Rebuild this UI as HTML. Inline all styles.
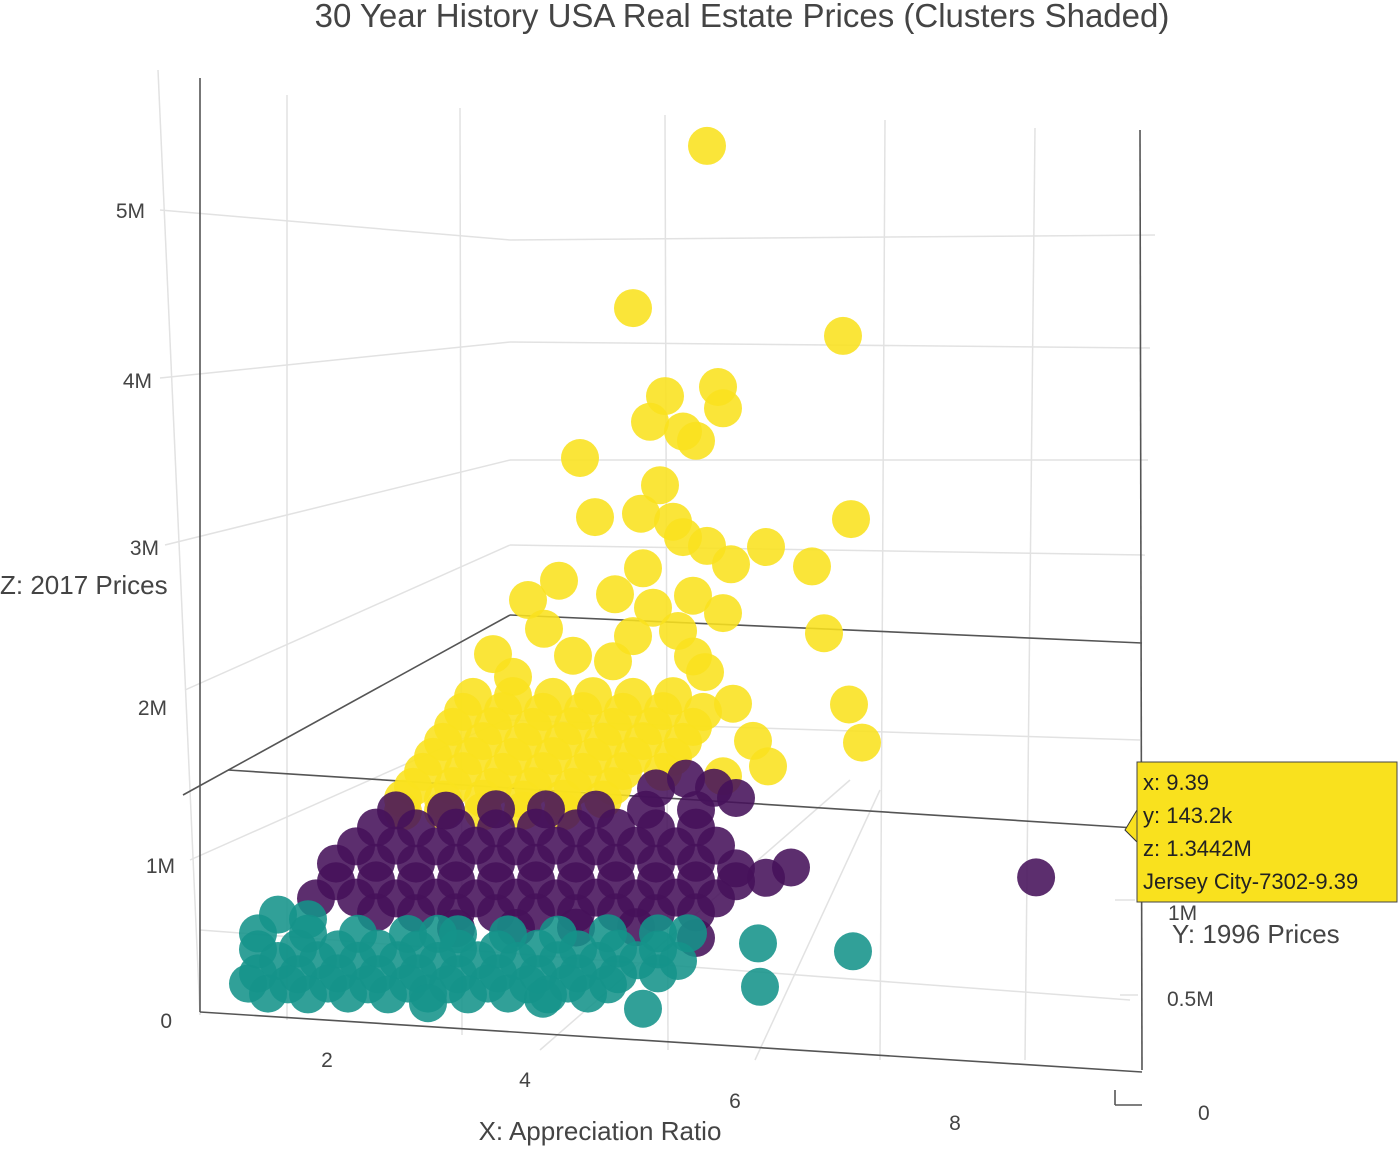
<!DOCTYPE html>
<html><head><meta charset="utf-8"><style>
html,body{margin:0;padding:0;background:#fff;}
svg{display:block;font-family:"Liberation Sans","DejaVu Sans",sans-serif;}
</style></head><body>
<svg id="chart" width="1400" height="1149" viewBox="0 0 1400 1149">
<rect width="1400" height="1149" fill="#fff"/>
<text x="742" y="27" font-size="33" fill="#444" text-anchor="middle">30 Year History USA Real Estate Prices (Clusters Shaded)</text>
<g id="grid" stroke="#e2e2e2" stroke-width="1.5" fill="none">
  <line x1="158" y1="70" x2="200" y2="1015"/>
  <line x1="287" y1="95" x2="287" y2="1020"/>
  <line x1="460" y1="108" x2="462" y2="1035"/>
  <line x1="665" y1="115" x2="668" y2="1050"/>
  <line x1="885" y1="120" x2="880" y2="1060"/>
  <line x1="1035" y1="128" x2="1025" y2="1060"/>
  <line x1="160" y1="210" x2="510" y2="240"/><line x1="510" y1="240" x2="1155" y2="235"/>
  <line x1="160" y1="378" x2="510" y2="342"/><line x1="510" y1="342" x2="1150" y2="348"/>
  <line x1="165" y1="545" x2="510" y2="460"/><line x1="510" y1="460" x2="1148" y2="460"/>
  <line x1="185" y1="690" x2="510" y2="545"/><line x1="510" y1="545" x2="1145" y2="555"/>
  <line x1="190" y1="860" x2="505" y2="720"/><line x1="505" y1="720" x2="1140" y2="740"/>
  <line x1="200" y1="930" x2="1130" y2="1000"/>
  <line x1="1115" y1="900" x2="1135" y2="900"/>
  <line x1="1120" y1="995" x2="1138" y2="995"/>
  <line x1="540" y1="1050" x2="850" y2="780"/>
  <line x1="755" y1="1060" x2="880" y2="790"/>
</g>
<g id="frame" stroke="#555" stroke-width="1.6" fill="none">
  <line x1="200" y1="78" x2="200" y2="1012"/>
  <line x1="1140" y1="130" x2="1142" y2="1070"/>
  <line x1="183" y1="795" x2="510" y2="615"/>
  <line x1="510" y1="615" x2="1142" y2="643"/>
  <line x1="228" y1="770" x2="1135" y2="828"/>
  <line x1="200" y1="1012" x2="1142" y2="1072"/>
  <line x1="1115" y1="1105" x2="1142" y2="1105"/>
  <line x1="1115" y1="1105" x2="1115" y2="1090"/>
</g>
<g font-size="21" fill="#444">
  <text x="145" y="218" text-anchor="end">5M</text>
  <text x="152" y="388" text-anchor="end">4M</text>
  <text x="159" y="555" text-anchor="end">3M</text>
  <text x="167" y="715" text-anchor="end">2M</text>
  <text x="175" y="873" text-anchor="end">1M</text>
  <text x="172" y="1028" text-anchor="end">0</text>
</g>
<text x="0" y="594" font-size="26" fill="#444">Z:  2017 Prices</text>
<g font-size="21" fill="#444" text-anchor="middle">
  <text x="327" y="1067">2</text><text x="525" y="1087">4</text>
  <text x="735" y="1108">6</text><text x="955" y="1130">8</text>
</g>
<text x="600" y="1140" font-size="26" fill="#444" text-anchor="middle">X: Appreciation Ratio</text>
<g font-size="21" fill="#444">
  <text x="1168" y="920">1M</text><text x="1167" y="1006">0.5M</text><text x="1198" y="1120">0</text>
</g>
<text x="1172" y="943" font-size="26" fill="#444">Y:  1996 Prices</text>
<g id="marks"></g>
<g>
  <polygon points="1137,810 1125,830 1137,842" fill="#f9e11e" stroke="#333" stroke-width="1"/>
  <rect x="1137" y="762" width="260" height="140" fill="#f9e11e" stroke="#444" stroke-width="1"/>
  <g font-size="22" fill="#222">
    <text x="1143" y="790">x: 9.39</text>
    <text x="1143" y="823">y: 143.2k</text>
    <text x="1143" y="856">z: 1.3442M</text>
    <text x="1143" y="889">Jersey City-7302-9.39</text>
  </g>
</g>
</svg>
<script>
// Cluster data: [appreciation ratio, 1996 price (M), 2017 price (M)]
const yellowPts = [
[6.14,0.35,5.70],[5.40,0.35,4.64],[7.49,0.3,4.60],[5.72,0.35,4.11],[6.25,0.35,4.20],[6.30,0.35,4.07],[5.57,0.35,3.94],[5.90,0.35,3.90],[6.03,0.35,3.85],[4.87,0.35,3.67],[5.67,0.35,3.55],[5.02,0.35,3.31],[7.57,0.3,3.46],[5.48,0.35,3.36],[5.80,0.35,3.33],[5.90,0.35,3.24],[6.14,0.35,3.20],[6.73,0.35,3.23],[6.38,0.35,3.10],[7.18,0.3,3.14],[5.50,0.35,3.02],[4.66,0.35,2.89],[5.22,0.35,2.84],[4.35,0.35,2.75],[4.51,0.35,2.58],[7.30,0.3,2.73],[5.60,0.35,2.78],[6.30,0.35,2.79],[5.85,0.35,2.65],[4.00,0.35,2.39],[6.00,0.35,2.50],[6.12,0.35,2.41],[5.20,0.35,2.42],[7.55,0.3,2.30],[7.68,0.3,2.07],[6.40,0.35,2.23],[6.60,0.35,2.01],[6.75,0.35,1.86],[6.30,0.35,1.77],
[5.40,0.35,2.59],[4.80,0.35,2.43],[6.00,0.35,2.88],[4.20,0.35,2.26],
[3.8,0.35,2.11],[4.2,0.35,2.14],[4.6,0.35,2.16],[5.0,0.35,2.19],[5.4,0.35,2.21],[5.8,0.35,2.24],
[3.7,0.35,2.01],[4.1,0.35,2.04],[4.5,0.35,2.06],[4.9,0.35,2.09],[5.3,0.35,2.11],[5.7,0.35,2.14],[6.1,0.35,2.16],
[3.6,0.35,1.91],[4.0,0.35,1.94],[4.4,0.35,1.96],[4.8,0.35,1.99],[5.2,0.35,2.01],[5.6,0.35,2.04],[6.0,0.35,2.06],
[3.5,0.35,1.81],[3.9,0.35,1.84],[4.3,0.35,1.86],[4.7,0.35,1.89],[5.1,0.35,1.91],[5.5,0.35,1.94],[5.9,0.35,1.96],
[3.4,0.35,1.71],[3.8,0.35,1.74],[4.2,0.35,1.76],[4.6,0.35,1.79],[5.0,0.35,1.81],[5.4,0.35,1.84],[5.8,0.35,1.86],
[3.3,0.35,1.61],[3.7,0.35,1.64],[4.1,0.35,1.66],[4.5,0.35,1.69],[4.9,0.35,1.71],[5.3,0.35,1.74],[5.7,0.35,1.76],
[3.2,0.35,1.51],[3.6,0.35,1.54],[4.0,0.35,1.56],[4.4,0.35,1.59],[4.8,0.35,1.61],[5.2,0.35,1.64],
[3.1,0.35,1.43],[3.5,0.35,1.45],[3.9,0.35,1.48],[4.3,0.35,1.50],[4.7,0.35,1.53],[5.1,0.35,1.55],
[3.1,0.35,1.35],[3.5,0.35,1.38],[3.9,0.35,1.40],[4.3,0.35,1.43],[4.7,0.35,1.45]
];
const purplePts = [
[6.18,0.2,1.70],[6.40,0.2,1.65],[5.90,0.2,1.74],[5.60,0.2,1.66],
[3.0,0.2,1.36],[3.5,0.2,1.39],[4.0,0.2,1.43],[4.5,0.2,1.46],[5.0,0.2,1.49],[5.5,0.2,1.52],[6.0,0.2,1.55],
[2.8,0.2,1.24],[3.2,0.2,1.26],[3.6,0.2,1.29],[4.0,0.2,1.31],[4.4,0.2,1.34],[4.8,0.2,1.36],[5.2,0.2,1.39],[5.6,0.2,1.41],[6.0,0.2,1.44],
[2.6,0.2,1.11],[3.0,0.2,1.14],[3.4,0.2,1.16],[3.8,0.2,1.19],[4.2,0.2,1.21],[4.6,0.2,1.24],[5.0,0.2,1.26],[5.4,0.2,1.29],[5.8,0.2,1.31],[6.2,0.2,1.34],
[2.4,0.2,0.99],[2.8,0.2,1.02],[3.2,0.2,1.04],[3.6,0.2,1.07],[4.0,0.2,1.09],[4.4,0.2,1.12],[4.8,0.2,1.14],[5.2,0.2,1.17],[5.6,0.2,1.19],[6.0,0.2,1.22],
[6.40,0.2,1.21],[6.95,0.2,1.25],[6.70,0.2,1.17],
[2.4,0.2,0.88],[2.8,0.2,0.91],[3.2,0.2,0.93],[3.6,0.2,0.96],[4.0,0.2,0.98],[4.4,0.2,1.01],[4.8,0.2,1.03],[5.2,0.2,1.06],[5.6,0.2,1.08],[6.0,0.2,1.11],[6.4,0.2,1.13],
[2.2,0.2,0.76],[2.6,0.2,0.79],[3.0,0.2,0.81],[3.4,0.2,0.84],[3.8,0.2,0.86],[4.2,0.2,0.89],[4.6,0.2,0.91],[5.0,0.2,0.94],[5.4,0.2,0.96],[5.8,0.2,0.99],[6.2,0.2,1.01],
[2.8,0.2,0.71],[3.2,0.2,0.73],[3.6,0.2,0.76],[4.0,0.2,0.78],[4.4,0.2,0.81],[4.8,0.2,0.83],[5.2,0.2,0.86],[5.6,0.2,0.88],[6.0,0.2,0.91],
[3.6,0.2,0.66],[4.2,0.2,0.70],[4.8,0.2,0.74],[5.4,0.2,0.78],[6.00,0.2,0.75],
[9.39,0.1432,1.3442]
];
const tealPts = [
[1.6,0.1,0.51],[2.1,0.1,0.54],[2.6,0.1,0.57],[3.1,0.1,0.60],[3.6,0.1,0.63],[4.1,0.1,0.66],[4.6,0.1,0.69],[5.1,0.1,0.73],[5.6,0.1,0.76],
[1.6,0.1,0.41],[2.0,0.1,0.44],[2.4,0.1,0.46],[2.8,0.1,0.49],[3.2,0.1,0.51],[3.6,0.1,0.54],[4.0,0.1,0.56],[4.4,0.1,0.59],[4.8,0.1,0.61],[5.2,0.1,0.64],[5.6,0.1,0.66],[5.90,0.1,0.78],
[1.8,0.1,0.35],[2.2,0.1,0.38],[2.6,0.1,0.40],[3.0,0.1,0.43],[3.4,0.1,0.45],[3.8,0.1,0.48],[4.2,0.1,0.50],[4.6,0.1,0.53],[5.0,0.1,0.55],[5.4,0.1,0.58],[5.8,0.1,0.60],
[1.6,0.1,0.26],[2.0,0.1,0.28],[2.4,0.1,0.31],[2.8,0.1,0.33],[3.2,0.1,0.36],[3.6,0.1,0.38],[4.0,0.1,0.41],[4.4,0.1,0.43],[4.8,0.1,0.46],[5.2,0.1,0.48],[5.6,0.1,0.51],
[1.9,0.1,0.21],[2.3,0.1,0.24],[2.7,0.1,0.26],[3.1,0.1,0.29],[3.5,0.1,0.31],[3.9,0.1,0.34],[4.3,0.1,0.36],[4.7,0.1,0.39],[5.1,0.1,0.41],
[1.7,0.1,0.14],[2.1,0.1,0.16],[2.5,0.1,0.19],[2.9,0.1,0.21],[3.3,0.1,0.24],[3.7,0.1,0.26],[4.1,0.1,0.29],[4.5,0.1,0.31],[4.9,0.1,0.34],
[1.80,0.1,0.64],[2.10,0.1,0.63],[3.40,0.1,0.62],[6.60,0.1,0.76],[7.55,0.1,0.77],[6.62,0.1,0.49],[5.45,0.1,0.28],[4.45,0.1,0.28],[1.50,0.1,0.19],[3.30,0.1,0.18]
];
const clusterNames = ["yellow","purple","teal"];
const clusterColors = ["#f9e11e","#45115a","#15938a"];

function projX(x,y,z){ return 200 + 100*(x-1) - 20*y; }
function projY(x,y,z){ return 1010 + 10*(x-1) - 10*y - 160*z; }

const marks = document.getElementById('marks');
const NS = "http://www.w3.org/2000/svg";
[yellowPts, purplePts, tealPts].forEach((pts, ci) => {
  const g = document.createElementNS(NS,'g');
  
  
  pts.forEach(p => {
    const c = document.createElementNS(NS,'circle');
    c.setAttribute('cx', projX(p[0],p[1],p[2]).toFixed(1));
    c.setAttribute('cy', projY(p[0],p[1],p[2]).toFixed(1));
    c.setAttribute('r', 19);
    c.setAttribute('fill', clusterColors[ci]);
    c.setAttribute('fill-opacity', 0.88);
    
    
    g.appendChild(c);
  });
  marks.appendChild(g);
});
</script>
</body></html>
